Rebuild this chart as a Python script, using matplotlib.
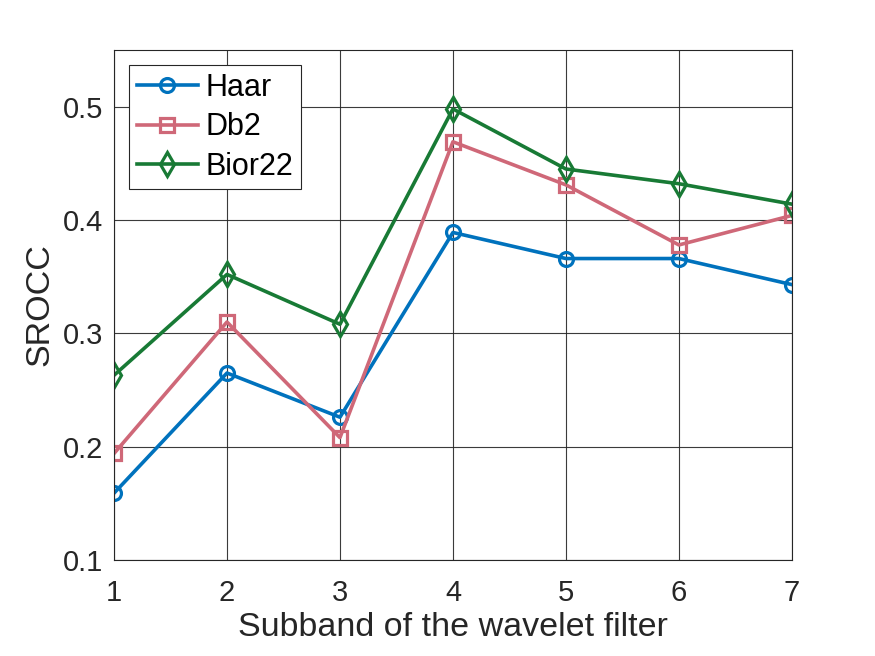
import matplotlib
matplotlib.use("Agg")
import matplotlib.pyplot as plt

plt.rcParams['font.family'] = ['Liberation Sans', 'DejaVu Sans']

subbands = [1, 2, 3, 4, 5, 6, 7]
haar = [0.159, 0.265, 0.226, 0.389, 0.366, 0.366, 0.343]
db2 = [0.194, 0.310, 0.208, 0.469, 0.431, 0.378, 0.404]
bior22 = [0.263, 0.352, 0.308, 0.498, 0.445, 0.432, 0.414]
xticks = [1, 2, 3, 4, 5, 6, 7]
yticks = [0.1, 0.2, 0.3, 0.4, 0.5]

fig = plt.figure(figsize=(8.75, 6.56), dpi=100)
ax = fig.add_axes([0.1303, 0.1463, 0.7747, 0.7775])

common = dict(linewidth=2.6, markerfacecolor='none', markeredgewidth=2.3)
ax.plot(subbands, haar, marker='o', color='#0072BD', label='Haar', markersize=10, **common)
ax.plot(subbands, db2, marker='s', color='#CF6878', label='Db2', markersize=9.5, **common)
ax.plot(subbands, bior22, marker='d', color='#187A35', label='Bior22', markersize=12, **common)

ax.set_xlim(1, 7)
ax.set_ylim(0.1, 0.55)
ax.set_xticks(xticks)
ax.set_yticks(yticks)
ax.set_yticklabels([f"{v:.1f}" for v in yticks])
ax.tick_params(labelsize=21, direction='in', length=0, pad=8, labelcolor='#262626')
ax.tick_params(axis='x', pad=14)
ax.grid(True, color='#262626', linewidth=0.8, alpha=0.9)
for s in ax.spines.values():
    s.set_color('#262626')
    s.set_linewidth(0.8)
ax.set_xlabel('Subband of the wavelet filter', fontsize=24.5, labelpad=3, color='#262626')
ax.set_ylabel('SROCC', fontsize=24.5, labelpad=5, color='#262626')

leg = ax.legend(loc='upper left', fontsize=22, fancybox=False, framealpha=1,
                edgecolor='#262626', handlelength=2.0, borderpad=0.25,
                labelspacing=0.31, handletextpad=0.25, borderaxespad=0.5)
leg.get_frame().set_linewidth(0.8)

fig.savefig('out.png', dpi=100)
